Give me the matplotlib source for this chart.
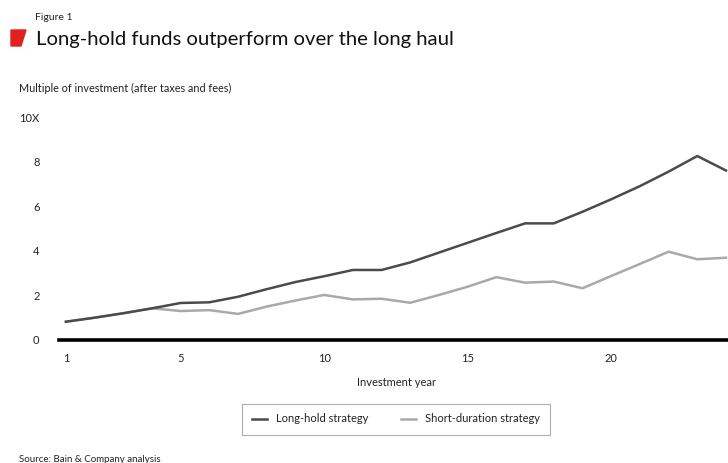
import matplotlib
matplotlib.use("Agg")
import matplotlib.pyplot as plt
from matplotlib.patches import Polygon

plt.rcParams['font.family'] = ['Lato', 'DejaVu Sans']

# values (multiple of investment, after taxes and fees)
years = list(range(1, 25))
long_hold = [0.82, 1.0, 1.2, 1.42, 1.66, 1.69, 1.94, 2.28, 2.6, 2.86, 3.14, 3.14,
             3.48, 3.92, 4.36, 4.8, 5.23, 5.23, 5.75, 6.31, 6.9, 7.55, 8.25, 7.6]
short_duration = [0.82, 1.0, 1.2, 1.42, 1.3, 1.34, 1.17, 1.5, 1.77, 2.02, 1.82, 1.85,
                  1.67, 2.02, 2.39, 2.82, 2.57, 2.62, 2.32, 2.87, 3.41, 3.96, 3.62, 3.69]
x_ticks = [1, 5, 10, 15, 20, 25]
y_ticks = [0, 2, 4, 6, 8, 10]
y_labels = ["0", "2", "4", "6", "8", "10X"]

W, H = 728, 463
fig = plt.figure(figsize=(W / 100, H / 100), dpi=100)

# axes: y=0 at 340px, y=10 at 117px, left edge 59px, runs off the right side
ax = fig.add_axes([59 / W, (H - 340) / H, (W - 59) / W, (340 - 117) / H])
ax.plot(years, short_duration, color="#a9a9a9", lw=1.8, label="Short-duration strategy")
ax.plot(years, long_hold, color="#4b4b4b", lw=1.8, label="Long-hold strategy")

ax.set_xlim(0.76, 24.07)
ax.set_ylim(0, 10)
for s in ["top", "right", "left"]:
    ax.spines[s].set_visible(False)
ax.spines["bottom"].set_linewidth(2.6)
ax.spines["bottom"].set_color("black")
ax.set_xticks([t for t in x_ticks if t <= 24])
ax.set_yticks(y_ticks)
ax.set_yticklabels(y_labels)
ax.tick_params(axis="both", length=0, labelsize=8, colors="#222222")
ax.tick_params(axis="y", pad=14)
ax.tick_params(axis="x", pad=9)
# the 25 label is cut by the right edge of the picture
ax.text(25, -0.68, "25", ha="center", va="center", fontsize=8, color="#222222",
        clip_on=False)

fig.text(397 / W, 1 - 382 / H, "Investment year", ha="center", va="center",
         fontsize=8, color="#222222")

fig.text(19 / W, 1 - 88 / H, "Multiple of investment (after taxes and fees)",
         ha="left", va="center", fontsize=7.8, color="#222222")

fig.text(35 / W, 1 - 17 / H, "Figure 1", ha="left", va="center", fontsize=7.5,
         color="#222222")
fig.text(36 / W, 1 - 40 / H, "Long-hold funds outperform over the long haul",
         ha="left", va="center", fontsize=14.6, color="#111111")
red = Polygon([(11 / W, 1 - 30 / H), (26 / W, 1 - 30 / H), (21 / W, 1 - 46 / H),
               (11 / W, 1 - 46 / H)], closed=True, transform=fig.transFigure,
              color="#e1201f")
fig.patches.append(red)

handles, labels = ax.get_legend_handles_labels()
leg = fig.legend(handles[::-1], labels[::-1], loc="center",
                 bbox_to_anchor=(396 / W, 1 - 419 / H), ncol=2,
                 frameon=True, fancybox=False, fontsize=8, handlelength=1.3,
                 columnspacing=3.0, borderpad=0.9, handletextpad=0.8,
                 borderaxespad=0)
leg.get_frame().set_edgecolor("#9a9a9a")
leg.get_frame().set_linewidth(0.8)
for t in leg.get_texts():
    t.set_color("#222222")

fig.text(19 / W, 1 / H, "Source: Bain & Company analysis", ha="left",
         va="baseline", fontsize=7, color="#222222")

fig.savefig("out.png", dpi=100)
